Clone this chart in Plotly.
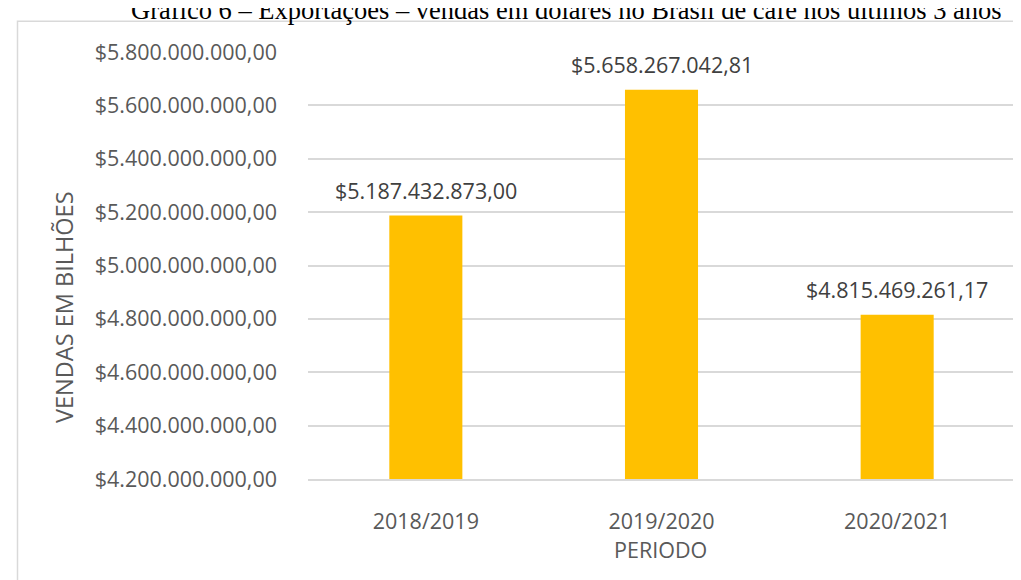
import plotly.graph_objects as go

periods = ["2018/2019", "2019/2020", "2020/2021"]
sales = [5187432873.00, 5658267042.81, 4815469261.17]
sales_labels = ["$5.187.432.873,00", "$5.658.267.042,81", "$4.815.469.261,17"]
tick_values = [4.2e9, 4.4e9, 4.6e9, 4.8e9, 5.0e9, 5.2e9, 5.4e9, 5.6e9, 5.8e9]
tick_labels = ["$4.200.000.000,00", "$4.400.000.000,00", "$4.600.000.000,00",
               "$4.800.000.000,00", "$5.000.000.000,00", "$5.200.000.000,00",
               "$5.400.000.000,00", "$5.600.000.000,00", "$5.800.000.000,00"]
title_text = "Gráfico 6 – Exportações – vendas em dólares no Brasil de café nos últimos 3 anos"
x_title = "PERIODO"
y_title = "VENDAS EM BILHÕES"

W, H = 1021, 580
L, R, T, B = 300, 14, 44, 109
pw, ph = W - L - R, H - T - B

def px_x(p):
    return (p - L) / pw

def px_y(p):
    return 1 + (T - p) / ph

FS = 21.5
GREY = "#595959"

fig = go.Figure()
fig.add_trace(go.Bar(
    x=periods, y=sales,
    marker=dict(color="#FFC000", line=dict(width=0)),
    width=0.31,
    hoverinfo="x+y",
))

# data labels placed on the data coordinates
for p, v, t in zip(periods, sales, sales_labels):
    fig.add_annotation(x=p, y=v, xref="x", yref="y", text=t, showarrow=False,
                       xanchor="center", yanchor="bottom", yshift=8.5,
                       font=dict(family="Open Sans", size=FS, color="#404040"))

fig.update_layout(
    width=W, height=H,
    margin=dict(l=L, r=R, t=T, b=B),
    paper_bgcolor="white", plot_bgcolor="white",
    showlegend=False,
    font=dict(family="Open Sans", size=FS, color=GREY),
    xaxis=dict(
        showgrid=False, showline=True, linecolor="#D9D9D9", linewidth=1.5,
        ticks="", ticklabelstandoff=22,
        tickfont=dict(family="Open Sans", size=FS, color=GREY),
    ),
    yaxis=dict(
        range=[4.2e9, 5.8e9],
        tickvals=tick_values, ticktext=tick_labels,
        showgrid=True, gridcolor="#D9D9D9", gridwidth=1.5,
        zeroline=False, showline=False, ticks="",
        ticklabelstandoff=30,
        tickfont=dict(family="Open Sans", size=FS, color=GREY),
    ),
)

# chart border
fig.add_shape(type="rect", xref="paper", yref="paper",
              x0=px_x(9.5), x1=px_x(1030), y0=px_y(600), y1=px_y(13.3),
              line=dict(color="#D9D9D9", width=1.5), fillcolor="rgba(0,0,0,0)", layer="below")

# axis titles
fig.add_annotation(text=x_title, xref="paper", yref="paper",
                   x=px_x(652), y=px_y(541.5), xanchor="center", yanchor="middle",
                   showarrow=False, font=dict(family="Open Sans", size=FS, color=GREY))
fig.add_annotation(text=y_title, xref="paper", yref="paper", textangle=-90,
                   x=px_x(56), y=px_y(299), xanchor="center", yanchor="middle",
                   showarrow=False, font=dict(family="Open Sans", size=23.5, color=GREY))

# chart title (clipped at the top like the source)
fig.add_annotation(
    text=title_text, xref="paper", yref="paper",
    x=px_x(558.5), y=px_y(19), xanchor="center", yanchor="bottom",
    showarrow=False,
    font=dict(family="Liberation Serif", size=26.5, color="#000000"),
)

fig.write_html("out.html")
